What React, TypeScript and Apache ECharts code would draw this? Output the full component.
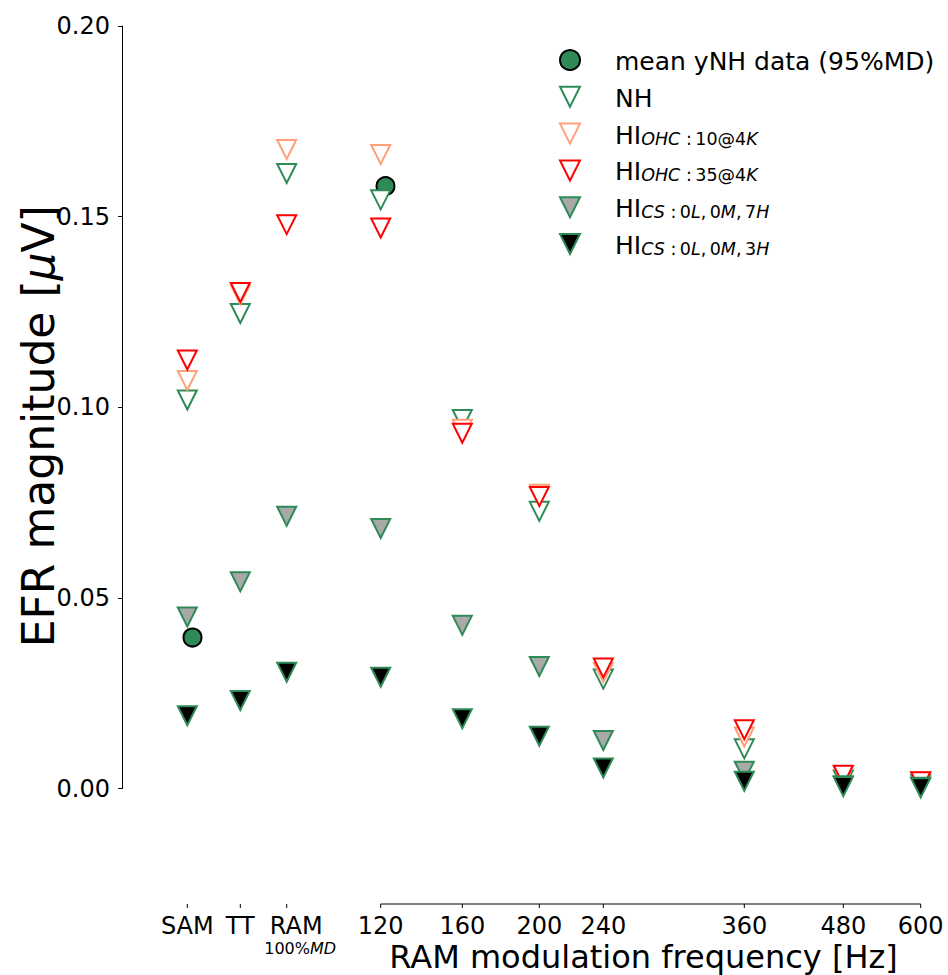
import React, { useEffect, useRef } from "react";
import * as echarts from "echarts";

// ---- data ----
const categories = ["SAM", "TT", "RAM", "120", "160", "200", "240", "360", "480", "600"];
// positions of the categories on the (non-uniform) frequency axis
const xPos = [187.3, 240.3, 286.7, 380.7, 462.3, 539.3, 603.3, 744.3, 843.3, 920.7];
const yTicks = [0, 0.05, 0.1, 0.15, 0.2];

const meanX = [192.5, 385.5];
const meanVals = [0.0396, 0.158];

const nh = [0.1019, 0.1246, 0.1613, 0.1544, 0.0968, 0.0727, 0.0287, 0.0104, 0.0022, 0.001];
const ohc10 = [0.107, 0.1295, 0.1676, 0.1663, 0.0942, 0.0772, 0.0304, 0.0135, 0.0033, 0.0017];
const ohc35 = [0.1124, 0.1301, 0.1479, 0.147, 0.0932, 0.0766, 0.0316, 0.0154, 0.0035, 0.0018];
const cs7h = [0.045, 0.0542, 0.0714, 0.0682, 0.0428, 0.032, 0.0126, 0.0045, 0.0007, 0.0003];
const cs3h = [0.0191, 0.0231, 0.0305, 0.0292, 0.0183, 0.0137, 0.0054, 0.0019, 0.0005, 0.0002];

const seriesNames = [
  "mean yNH data (95%MD)",
  "NH",
  "HI OHC:10@4K",
  "HI OHC:35@4K",
  "HI CS:0L,0M,7H",
  "HI CS:0L,0M,3H",
];

// ---- styles / layout ----
const FONT = "DejaVu Sans";
const GREEN = "#2E8B57";
const SALMON = "#FFA07A";
const RED = "#FF0000";
const GRAY = "#A9A9A9";
const TRI = "path://M0,0L20,0L10,20Z";

const PLOT_LEFT = 122;
const PLOT_TOP = 26;
const ZERO_Y = 788.5;
const BOTTOM_Y = 904;
const CHART_W = 948;
const CHART_H = 975;
const yMin0 = 0.2 - (0.2 * (BOTTOM_Y - PLOT_TOP)) / (ZERO_Y - PLOT_TOP);
const RAM_LABEL_SHIFT = 9.5;
const TICK_LEN = 4;

const legendLabel: Record<string, string> = {
  [seriesNames[0]]: "{m|mean yNH data (95%MD)}",
  [seriesNames[1]]: "{m|NH}",
  [seriesNames[2]]: "{m|HI}{si|OHC}{su| :\u200910@4}{si|K}",
  [seriesNames[3]]: "{m|HI}{si|OHC}{su| :\u200935@4}{si|K}",
  [seriesNames[4]]: "{m|HI}{si|CS}{su| :\u20090}{si|L}{su|,\u20090}{si|M}{su|,\u20097}{si|H}",
  [seriesNames[5]]: "{m|HI}{si|CS}{su| :\u20090}{si|L}{su|,\u20090}{si|M}{su|,\u20093}{si|H}",
};

export default function App() {
  const ref = useRef<HTMLDivElement>(null);

  useEffect(() => {
    if (!ref.current) return;
    const chart = echarts.init(ref.current, null, { renderer: "svg" });

    const labelPos = xPos.map((p, i) => (categories[i] === "RAM" ? p + RAM_LABEL_SHIFT : p));

    const tri = (name: string, vals: number[], fill: string, stroke: string) => ({
      type: "scatter",
      name,
      xAxisIndex: 0,
      yAxisIndex: 0,
      symbol: TRI,
      symbolSize: 19,
      data: xPos.map((x, i) => [x, vals[i]]),
      itemStyle: { color: fill, borderColor: stroke, borderWidth: 2, opacity: 1 },
      emphasis: { disabled: true },
    });

    const option: any = {
      animation: false,
      backgroundColor: "#fff",
      textStyle: { fontFamily: FONT },
      grid: [
        // 0: data area
        {
          left: PLOT_LEFT,
          top: PLOT_TOP,
          width: CHART_W - PLOT_LEFT,
          height: BOTTOM_Y - PLOT_TOP,
          containLabel: false,
          outerBoundsMode: "none",
        },
        // 1: left spine (0 .. 0.2)
        {
          left: PLOT_LEFT,
          top: PLOT_TOP,
          width: CHART_W - PLOT_LEFT,
          height: ZERO_Y - PLOT_TOP,
          containLabel: false,
          outerBoundsMode: "none",
        },
      ],
      xAxis: [
        {
          gridIndex: 0,
          type: "value",
          position: "bottom",
          min: PLOT_LEFT,
          max: CHART_W,
          axisLine: { show: false, onZero: false },
          axisTick: { show: false },
          splitLine: { show: false },
          axisLabel: {
            show: true,
            margin: 10,
            customValues: labelPos,
            color: "#000",
            fontFamily: FONT,
            fontSize: 24,
            lineHeight: 24,
            formatter: (v: number) => {
              let best = 0;
              for (let i = 1; i < labelPos.length; i++) {
                if (Math.abs(labelPos[i] - v) < Math.abs(labelPos[best] - v)) best = i;
              }
              const c = categories[best];
              if (c === "RAM") return "{t|RAM}\n{sb|100%}{sbi|MD}";
              return "{t|" + c + "}";
            },
            rich: {
              t: { fontFamily: FONT, fontSize: 24, lineHeight: 24, color: "#000" },
              sb: { fontFamily: FONT, fontSize: 16, lineHeight: 20, color: "#000", padding: [0, 0, 0, 8] },
              sbi: { fontFamily: FONT, fontSize: 16, lineHeight: 20, color: "#000", fontStyle: "italic" },
            },
          },
          name: "RAM modulation frequency [Hz]",
          nameLocation: "middle",
          nameGap: 37,
          nameMoveOverlap: false,
          nameTextStyle: {
            fontFamily: FONT,
            fontSize: 32,
            lineHeight: 32,
            color: "#000",
            padding: [0, 0, 0, 217],
          },
        },
        { gridIndex: 1, type: "value", min: 0, max: 1, show: false },
      ],
      yAxis: [
        { gridIndex: 0, type: "value", min: yMin0, max: 0.2, show: false },
        {
          gridIndex: 1,
          type: "value",
          min: 0,
          max: 0.2,
          interval: 0.05,
          axisLine: { show: true, lineStyle: { color: "#000", width: 1 } },
          axisTick: { show: true, inside: false, length: TICK_LEN, lineStyle: { color: "#000", width: 1 } },
          splitLine: { show: false },
          axisLabel: {
            show: true,
            margin: 12,
            color: "#000",
            fontFamily: FONT,
            fontSize: 24,
            customValues: yTicks,
            formatter: (v: number) => v.toFixed(2),
          },
          name: "{n|EFR magnitude [}{ni|\u03bc}{n|V]}",
          nameLocation: "middle",
          nameRotate: 90,
          nameGap: 61,
          nameMoveOverlap: false,
          nameTextStyle: {
            fontFamily: FONT,
            fontSize: 44,
            lineHeight: 46,
            color: "#000",
            padding: [0, 38, 0, 0],
            rich: {
              n: { fontFamily: FONT, fontSize: 44, lineHeight: 46, color: "#000" },
              ni: { fontFamily: FONT, fontSize: 44, lineHeight: 46, color: "#000", fontStyle: "italic" },
            },
          },
        },
      ],
      legend: {
        orient: "vertical",
        left: 559,
        top: 49,
        padding: 0,
        itemWidth: 20,
        itemHeight: 20,
        itemGap: 11.8,
        selectedMode: false,
        data: seriesNames,
        formatter: (name: string) => legendLabel[name] || name,
        textStyle: {
          fontFamily: FONT,
          fontSize: 25,
          color: "#000",
          rich: {
            m: {
              fontFamily: FONT,
              fontSize: 25,
              lineHeight: 28,
              color: "#000",
              verticalAlign: "bottom",
              padding: [0, 0, 0, 30],
            },
            si: {
              fontFamily: FONT,
              fontSize: 17.5,
              lineHeight: 11,
              color: "#000",
              fontStyle: "italic",
              verticalAlign: "bottom",
            },
            su: {
              fontFamily: FONT,
              fontSize: 17.5,
              lineHeight: 11,
              color: "#000",
              verticalAlign: "bottom",
            },
          },
        },
      },
      series: [
        // bottom spine (120..600) and x ticks, drawn through the data axes
        {
          type: "custom",
          xAxisIndex: 0,
          yAxisIndex: 0,
          silent: true,
          clip: false,
          z: 1,
          data: [0],
          renderItem: (_params: any, api: any) => {
            const a = api.coord([xPos[3], yMin0]);
            const b = api.coord([xPos[xPos.length - 1], yMin0]);
            const children: any[] = [
              {
                type: "line",
                shape: { x1: a[0], y1: a[1], x2: b[0], y2: b[1] },
                style: { stroke: "#000", lineWidth: 1 },
              },
            ];
            xPos.forEach((x) => {
              const p = api.coord([x, yMin0]);
              children.push({
                type: "line",
                shape: { x1: p[0], y1: p[1], x2: p[0], y2: p[1] + TICK_LEN },
                style: { stroke: "#000", lineWidth: 1 },
              });
            });
            return { type: "group", children };
          },
        },
        {
          type: "scatter",
          name: seriesNames[0],
          xAxisIndex: 0,
          yAxisIndex: 0,
          symbol: "circle",
          symbolSize: 18,
          data: meanX.map((x, i) => [x, meanVals[i]]),
          itemStyle: { color: GREEN, borderColor: "#000", borderWidth: 2, opacity: 1 },
          emphasis: { disabled: true },
        },
        tri(seriesNames[1], nh, "#fff", GREEN),
        tri(seriesNames[2], ohc10, "#fff", SALMON),
        tri(seriesNames[3], ohc35, "#fff", RED),
        tri(seriesNames[4], cs7h, GRAY, GREEN),
        tri(seriesNames[5], cs3h, "#000", GREEN),
      ],
    };

    chart.setOption(option);
    return () => chart.dispose();
  }, []);

  return (
    <div
      ref={ref}
      style={{ position: "absolute", left: 0, top: 0, width: CHART_W, height: CHART_H, background: "#fff" }}
    />
  );
}
